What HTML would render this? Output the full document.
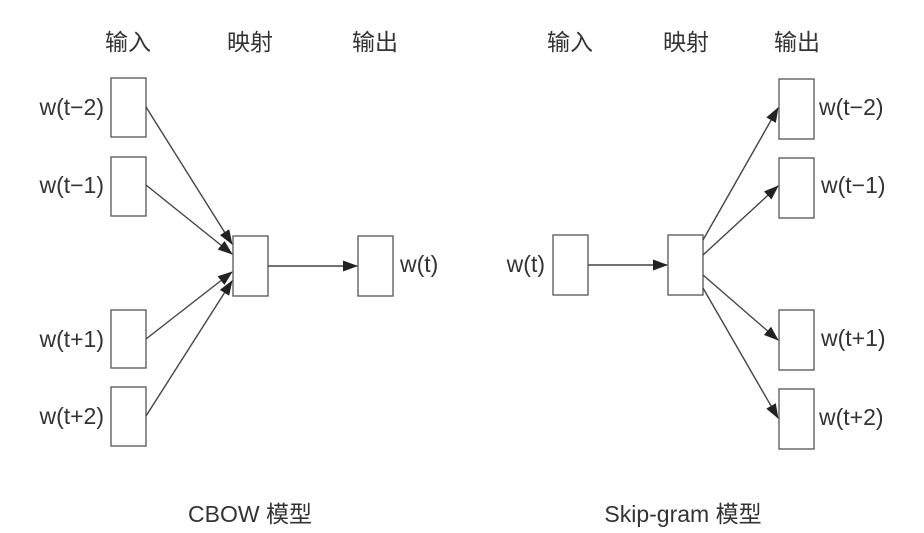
<!DOCTYPE html>
<html><head><meta charset="utf-8"><style>
body{margin:0;background:#fff;}
svg{display:block}
text{font-family:"Liberation Sans","Noto Sans CJK SC",sans-serif;fill:#333;font-size:23px}
</style></head><body>
<svg width="924" height="533" viewBox="0 0 924 533">
<defs><marker id="a" markerWidth="15" markerHeight="11" refX="14" refY="5.5" orient="auto" markerUnits="userSpaceOnUse"><path d="M0,0 L15,5.5 L0,11 Z" fill="#222"/></marker></defs>
<g text-anchor="middle" style="font-size:21px">
<text x="128" y="50">输入</text><text x="250" y="50">映射</text><text x="375" y="50">输出</text>
<text x="570" y="50">输入</text><text x="686" y="50">映射</text><text x="797" y="50">输出</text>
</g>
<g text-anchor="middle" style="font-size:24px">
<text x="250" y="522">CBOW 模型</text><text x="683" y="522">Skip-gram 模型</text>
</g>
<g fill="#fff" stroke="#555" stroke-width="1.3">
<rect x="111" y="78" width="35" height="59"/><rect x="111" y="157" width="35" height="59"/>
<rect x="111" y="310" width="35" height="58"/><rect x="111" y="387" width="35" height="59"/>
<rect x="233" y="236" width="35" height="60"/><rect x="358" y="236" width="35" height="60"/>
<rect x="553" y="235" width="35" height="60"/><rect x="668" y="235" width="35" height="60"/>
<rect x="779" y="79" width="35" height="60"/><rect x="779" y="158" width="35" height="60"/>
<rect x="779" y="310" width="35" height="60"/><rect x="779" y="389" width="35" height="60"/>
</g>
<g stroke="#444" stroke-width="1.4" marker-end="url(#a)">
<line x1="146" y1="107" x2="232" y2="244"/><line x1="146" y1="185" x2="232" y2="254"/>
<line x1="146" y1="339" x2="232" y2="272"/><line x1="146" y1="416" x2="232" y2="281"/>
<line x1="268" y1="266" x2="357" y2="266"/><line x1="588" y1="265" x2="667" y2="265"/>
<line x1="703" y1="240" x2="778" y2="108"/><line x1="703" y1="255" x2="778" y2="186"/>
<line x1="703" y1="275" x2="778" y2="340"/><line x1="703" y1="288" x2="778" y2="418"/>
</g>
<g text-anchor="end">
<text x="104" y="115">w(t−2)</text><text x="104" y="193">w(t−1)</text>
<text x="104" y="347">w(t+1)</text><text x="104" y="424">w(t+2)</text>
<text x="545" y="272">w(t)</text>
</g>
<text x="400" y="272">w(t)</text>
<text x="819" y="115">w(t−2)</text><text x="821" y="193">w(t−1)</text>
<text x="821" y="346">w(t+1)</text><text x="819" y="425">w(t+2)</text>
</svg>
</body></html>
